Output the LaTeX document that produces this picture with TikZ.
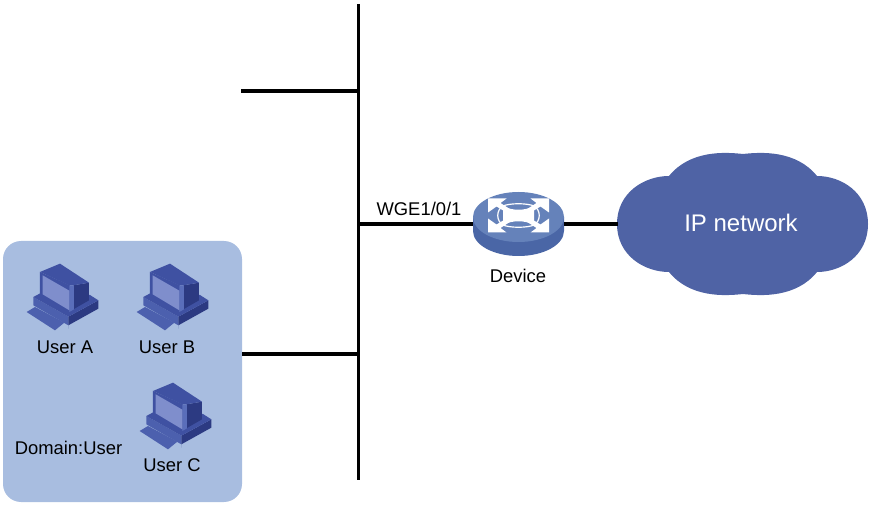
\documentclass[tikz,border=0pt]{standalone}
\usepackage{fontspec}
\setmainfont{Liberation Sans}
\usetikzlibrary{shapes,shapes.geometric}
\definecolor{domainblue}{HTML}{A8BDE0}
\definecolor{cloudblue}{HTML}{4F63A5}
\definecolor{routertop}{HTML}{6582BA}
\definecolor{routerside}{HTML}{4A66A6}
\definecolor{pcmid}{HTML}{3F51A2}
\definecolor{pcdark}{HTML}{2C3A82}
\definecolor{pclight}{HTML}{5A6EBA}
\definecolor{pckey}{HTML}{4C60AE}
\definecolor{pcscreen}{HTML}{7F8ECC}
\tikzset{
	x=0.75pt, y=-0.75pt,
	bus/.style = {line width=2.4pt, black},
	label_n/.style = {align=center, inner sep=0pt, font=\fontsize{13.8}{16}\selectfont},
	router_n/.style = {ellipse, fill=routertop, minimum width=68.25pt, minimum height=37.5pt, inner sep=0pt},
	pc/.pic = {
		\begin{scope}[scale=0.3333]
			\fill[pckey] (50,186) -- (75,171) -- (163,218) -- (135,241) -- cycle;
			\fill[pckey] (70,141) -- (70,166) -- (175,226) -- (175,200) -- cycle;
			\fill[pcdark] (175,200) -- (265,151) -- (265,176) -- (175,226) -- (175,236) -- cycle;
			\fill[pcmid] (70,141) -- (100,125) -- (240,135) -- (265,151) -- (175,200) -- cycle;
			\fill[pcdark] (190,106) -- (237,98) -- (237,151) -- (190,178) -- cycle;
			\fill[pcmid] (90,66) -- (150,41) -- (237,98) -- (190,106) -- (178,106) -- cycle;
			\fill[pcmid] (90,66) -- (180,106) -- (180,188) -- (90,138) -- cycle;
			\fill[pclight] (178,106) -- (192,106) -- (192,178) -- (178,186) -- cycle;
			\fill[pcscreen] (98,76) -- (178,122) -- (178,181) -- (98,133) -- cycle;
		\end{scope}
	},
	arrow_n/.pic = {
		\fill[white] (-30.5,-17) -- (-12,-17) -- (-18,-12.5) -- (-8,-6) -- (-12,-3) -- (-22,-9) -- (-30.5,-3) -- cycle;
	}
}
\begin{document}
\begin{tikzpicture}
	\useasboundingbox (0,0) rectangle (872,506);
	% user domain
	\node [fill=domainblue, rounded corners=13.5pt, minimum width=179.25pt, minimum height=195.75pt, inner sep=0pt] (domain) at (122.5,371.5) {};
	\pic at (10,250) {pc};
	\pic at (120,250) {pc};
	\pic at (123,369) {pc};
	\node [label_n] (usera) at (65,347) {User A};
	\node [label_n] (userb) at (167,347) {User B};
	\node [label_n] (userc) at (172,465) {User C};
	\node [label_n] (domainname) at (68.5,448) {Domain:User};
	% bus and stubs
	\coordinate (bustop) at (358.5,4);
	\coordinate (busbottom) at (358.5,480);
	\coordinate (stub) at (241,91);
	\coordinate (stubjoin) at (358.5,91);
	\coordinate (domainjoin) at (358.5,354);
	\coordinate (domainend) at (242,354);
	\coordinate (devicejoin) at (358.5,224);
	\draw [bus] (bustop) -- (busbottom);
	\draw [bus] (stub) -- (stubjoin);
	\draw [bus] (domainend) -- (domainjoin);
	% cloud
	\fill [cloudblue] (743,154) .. controls (725,152) and (690,150) .. (669,176)
		.. controls (645,176) and (617,192) .. (617,224)
		.. controls (617,256) and (645,272) .. (669,272)
		.. controls (690,298) and (725,296) .. (743,294)
		.. controls (761,296) and (796,298) .. (817,272)
		.. controls (841,272) and (868,256) .. (868,224)
		.. controls (868,192) and (841,176) .. (817,176)
		.. controls (796,150) and (761,152) .. (743,154) -- cycle;
	\node [inner sep=0pt, white, font=\fontsize{18}{20}\selectfont] (ipnet) at (741,223) {IP network};
	\coordinate (cloudedge) at (618,224);
	% device
	\fill [routerside] (473,217) -- (473,231) arc [start angle=180, end angle=360, x radius=45.5, y radius=-25] -- (564,217) -- cycle;
	\node [router_n] (device) at (518.5,217) {};
	\pic at (518.5,215.5) {arrow_n};
	\pic [xscale=-1] at (518.5,215.5) {arrow_n};
	\pic [yscale=-1] at (518.5,215.5) {arrow_n};
	\pic [xscale=-1, yscale=-1] at (518.5,215.5) {arrow_n};
	\draw [white, line width=0.9pt] (503,206) .. controls (510,203) and (527,203) .. (534,206)
		.. controls (541,210) and (541,221) .. (534,225)
		.. controls (527,228) and (510,228) .. (503,225)
		.. controls (496,221) and (496,210) .. (503,206) -- cycle;
	\fill [white] (503,206) .. controls (512,211) and (525,211) .. (534,206)
		.. controls (534,212) and (534,219) .. (534,225)
		.. controls (525,220) and (512,220) .. (503,225)
		.. controls (503,219) and (503,212) .. (503,206) -- cycle;
	\draw [bus] (devicejoin) -- (device.west |- devicejoin);
	\draw [bus] (device.east |- devicejoin) -- (cloudedge);
	\node [label_n] (devicename) at (518,276) {Device};
	\node [label_n] (port) at (419,209) {WGE1/0/1};
\end{tikzpicture}
\end{document}
